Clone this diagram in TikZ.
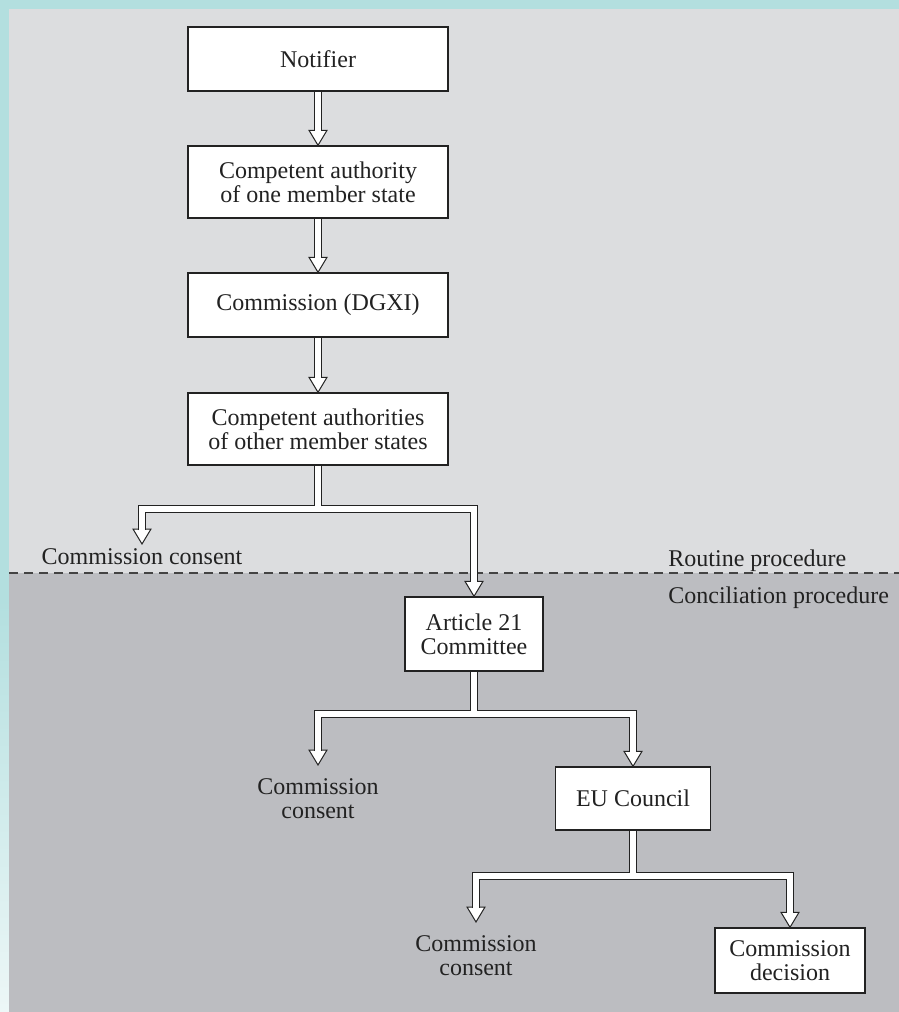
\documentclass[tikz,border=0pt]{standalone}
\usepackage{fontspec}
\setmainfont{Liberation Serif}
\definecolor{tealA}{HTML}{B3DFDF}
\definecolor{tealB}{HTML}{EDF7F7}
\definecolor{panelUp}{HTML}{DCDDDF}
\definecolor{panelLow}{HTML}{BCBDC1}
\definecolor{ink}{HTML}{222222}
\newcommand\arrowheadat[1]{\draw[headtri] #1 -- ++(-4.5pt,7.5pt) -- ++(9pt,0pt) -- cycle;}
\begin{document}
\begin{tikzpicture}[x=0.5pt,y=-0.5pt,
  every node/.style={text=ink, font=\fontsize{12}{12}\selectfont},
  box/.style={draw=ink, fill=white, line width=0.7pt, align=center, inner sep=0pt},
  lbl/.style={align=center, inner sep=0pt},
  conn/.style={draw=ink, line width=0.5pt, double=white, double distance=3pt, line join=miter},
  headtri/.style={draw=ink, line width=0.5pt, fill=white, line join=miter},
  divider/.style={draw=ink!85, line width=0.9pt, dash pattern=on 4.5pt off 3pt}]
\useasboundingbox (0,0) rectangle (899,1012);
% background
\fill[tealA] (0,0) rectangle (899,9);
\fill[tealA] (0,0) rectangle (9,600);
\shade[top color=tealA, bottom color=tealB] (0,600) rectangle (9,1012);
\fill[panelUp] (9,9) rectangle (899,573);
\fill[panelLow] (9,573) rectangle (899,1012);
\draw[divider] (9,573) -- (899,573);
\node[lbl, anchor=base west] (routine) at (668,566) {Routine procedure};
\node[lbl, anchor=base west] (concil) at (668,603) {Conciliation procedure};
% boxes
\node[box, minimum width=130pt, minimum height=32pt] (notifier) at (318,59) {Notifier};
\node[box, minimum width=130pt, minimum height=36pt] (ca1) at (318,182) {Competent authority\\of one member state};
\node[box, minimum width=130pt, minimum height=32pt] (dgxi) at (318,305) {Commission (DGXI)};
\node[box, minimum width=130pt, minimum height=36pt] (ca2) at (318,429) {Competent authorities\\of other member states};
\node[box, minimum width=69pt, minimum height=37pt] (art21) at (474,634) {Article 21\\Committee};
\node[box, minimum width=77.5pt, minimum height=31.5pt] (eu) at (633,798.5) {EU Council};
\node[box, minimum width=75pt, minimum height=32.5pt] (decision) at (790,960.5) {Commission\\decision};
% labels
\node[lbl, anchor=north] (cc1) at (142,548) {Commission consent};
\node[lbl, anchor=north] (cc2) at (318,778) {Commission\\consent};
\node[lbl, anchor=north] (cc3) at (476,935) {Commission\\consent};
% tip coordinates
\coordinate (t1) at ([yshift=2pt]cc1.north);
\coordinate (t2) at ([yshift=6.5pt]cc2.north);
\coordinate (t3) at ([yshift=6.5pt]cc3.north);
\coordinate (b1) at (318,508.5);
\coordinate (b2) at (475,713.5);
\coordinate (b3) at (632,875.5);
% arrowheads
\arrowheadat{(ca1.north)}
\arrowheadat{(dgxi.north)}
\arrowheadat{(ca2.north)}
\arrowheadat{(t1)}
\arrowheadat{(art21.north)}
\arrowheadat{(t2)}
\arrowheadat{(eu.north)}
\arrowheadat{(t3)}
\arrowheadat{(decision.north)}
% straight connectors
\draw[conn] ([yshift=-0.35pt]notifier.south) -- ([yshift=7pt]ca1.north);
\draw[conn] ([yshift=-0.35pt]ca1.south) -- ([yshift=7pt]dgxi.north);
\draw[conn] ([yshift=-0.35pt]dgxi.south) -- ([yshift=7pt]ca2.north);
% branches
\draw[conn] ([yshift=-0.35pt]ca2.south) -- (b1)
  ([yshift=7pt]t1) -- (t1 |- b1) -- (art21.north |- b1) -- ([yshift=7pt]art21.north);
\draw[conn] ([yshift=-0.35pt]art21.south) -- (art21.south |- b2)
  ([yshift=7pt]t2) -- (t2 |- b2) -- (eu.north |- b2) -- ([yshift=7pt]eu.north);
\draw[conn] ([yshift=-0.35pt]eu.south) -- (eu.south |- b3)
  ([yshift=7pt]t3) -- (t3 |- b3) -- (decision.north |- b3) -- ([yshift=7pt]decision.north);
\end{tikzpicture}
\end{document}
